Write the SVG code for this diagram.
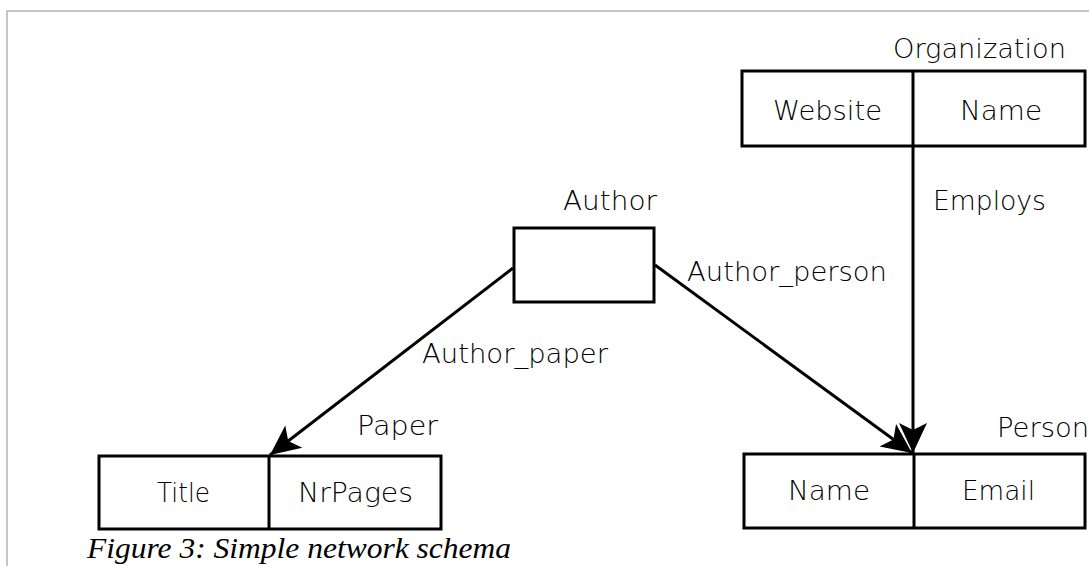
<svg xmlns="http://www.w3.org/2000/svg" width="1089" height="566" viewBox="0 0 1089 566">
  <style>
    .frame { stroke: #b4b4b4; stroke-width: 1.5; fill: none; }
    .box { fill: #ffffff; stroke: #000000; stroke-width: 3; }
    .div { stroke: #000000; stroke-width: 3; }
    .edge { stroke: #000000; stroke-width: 3; fill: none; marker-end: url(#head); }
    .lbl { font-family: "DejaVu Sans", "Liberation Sans", sans-serif; font-size: 26px; font-weight: 200; fill: #000000; }
    .cap { font-family: "Liberation Serif", "DejaVu Serif", serif; font-size: 30px; font-style: italic; fill: #000000; }
  </style>
  <defs>
    <marker id="head" markerUnits="userSpaceOnUse" viewBox="-32 -16 34 32" refX="0" refY="0" markerWidth="34" markerHeight="32" orient="auto" overflow="visible">
      <path d="M0,0 L-30,-14 L-23,0 L-30,14 Z" fill="#000000"/>
    </marker>
  </defs>
  <rect width="1089" height="566" fill="#ffffff"/>

  <!-- page frame -->
  <path class="frame" d="M7,566 L7,11 L1089,11"/>

  <!-- connectors -->
  <g id="connectors">
    <line class="edge" x1="913" y1="146" x2="913" y2="453"/>
    <line class="edge" x1="655" y1="265" x2="912" y2="453"/>
    <line class="edge" x1="513" y1="268" x2="270" y2="455"/>
    <text class="lbl" x="933" y="210" textLength="113" lengthAdjust="spacingAndGlyphs">Employs</text>
    <text class="lbl" x="687" y="281" textLength="200" lengthAdjust="spacingAndGlyphs">Author_person</text>
    <text class="lbl" x="422" y="363" textLength="186" lengthAdjust="spacingAndGlyphs">Author_paper</text>
  </g>

  <!-- Organization -->
  <g id="organization">
    <text class="lbl" x="893" y="58" textLength="173" lengthAdjust="spacingAndGlyphs">Organization</text>
    <rect class="box" x="742" y="71" width="343" height="75"/>
    <line class="div" x1="913" y1="71" x2="913" y2="146"/>
    <text class="lbl" x="773" y="120" textLength="109" lengthAdjust="spacingAndGlyphs">Website</text>
    <text class="lbl" x="960" y="120" textLength="82" lengthAdjust="spacingAndGlyphs">Name</text>
  </g>

  <!-- Author -->
  <g id="author">
    <text class="lbl" x="563" y="210" textLength="94" lengthAdjust="spacingAndGlyphs">Author</text>
    <rect class="box" x="514" y="228" width="140" height="74"/>
  </g>

  <!-- Paper -->
  <g id="paper">
    <text class="lbl" x="357" y="435" textLength="81" lengthAdjust="spacingAndGlyphs">Paper</text>
    <rect class="box" x="99" y="456" width="342" height="73"/>
    <line class="div" x1="269" y1="456" x2="269" y2="529"/>
    <text class="lbl" x="157" y="502" textLength="53" lengthAdjust="spacingAndGlyphs">Title</text>
    <text class="lbl" x="298" y="502" textLength="115" lengthAdjust="spacingAndGlyphs">NrPages</text>
  </g>

  <!-- Person -->
  <g id="person">
    <text class="lbl" x="997" y="437" textLength="92" lengthAdjust="spacingAndGlyphs">Person</text>
    <rect class="box" x="744" y="454" width="341" height="74"/>
    <line class="div" x1="914" y1="454" x2="914" y2="528"/>
    <text class="lbl" x="788" y="500" textLength="82" lengthAdjust="spacingAndGlyphs">Name</text>
    <text class="lbl" x="962" y="500" textLength="73" lengthAdjust="spacingAndGlyphs">Email</text>
  </g>

  <!-- caption -->
  <text class="cap" x="87" y="558" textLength="424" lengthAdjust="spacingAndGlyphs">Figure 3: Simple network schema</text>
</svg>
